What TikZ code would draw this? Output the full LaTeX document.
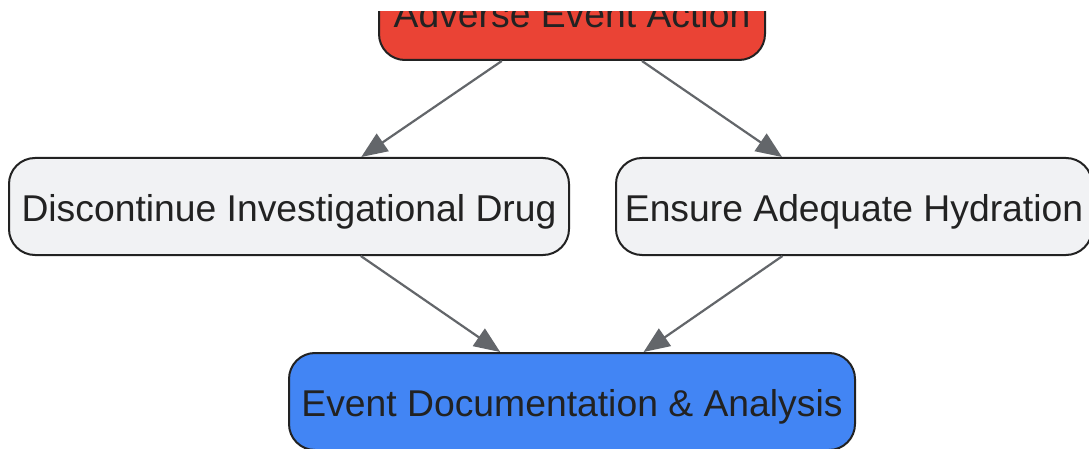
\documentclass[tikz,border=0pt]{standalone}
\usepackage{fontspec}
\setmainfont{Liberation Sans}
\usetikzlibrary{arrows.meta}
\definecolor{redfill}{HTML}{EA4335}
\definecolor{bluefill}{HTML}{4285F4}
\definecolor{grayfill}{HTML}{F1F2F4}
\definecolor{edgecol}{HTML}{222222}
\definecolor{arrowcol}{HTML}{63666A}
\tikzset{
  box/.style={draw=edgecol, line width=2pt, rounded corners=26pt, inner sep=0pt,
    minimum height=97pt, text height=30pt, text depth=0pt, text=edgecol,
    font=\fontsize{37.3}{40}\selectfont},
  conn/.style={draw=arrowcol, line width=2.2pt, -{Triangle[length=26pt,width=21pt]}},
}
\begin{document}
\begin{tikzpicture}[x=1pt,y=-1pt]
\useasboundingbox (0,0) rectangle (1089,449);
\fill[white] (0,0) rectangle (1089,449);
\begin{scope}
\clip (0,12) rectangle (1089,449);
\node[box, fill=redfill, minimum width=386pt, minimum height=94pt] (top) at (572,13) {Adverse Event Action};
\node[box, fill=grayfill, minimum width=560pt] (left) at (289,206.5) {Discontinue Investigational Drug};
\node[box, fill=grayfill, minimum width=476pt] (right) at (854,206.5) {Ensure Adequate Hydration};
\node[box, fill=bluefill, minimum width=566pt] (bottom) at (572,401.5) {Event Documentation \& Analysis};
\draw[conn] (top) -- (left);
\draw[conn] (top) -- (right);
\draw[conn] (left) -- (bottom);
\draw[conn] (right) -- (bottom);
\end{scope}
\end{tikzpicture}
\end{document}
